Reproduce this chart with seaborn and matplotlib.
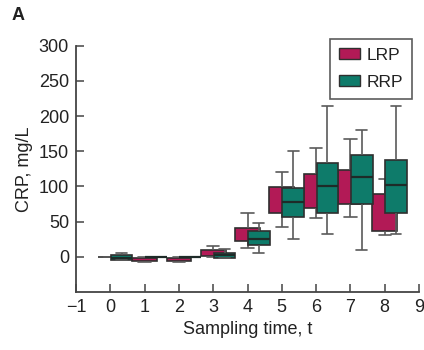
import numpy as np
import pandas as pd
import matplotlib
matplotlib.use("Agg")
import matplotlib.pyplot as plt
import seaborn as sns
from matplotlib.patches import Patch

# ---- data: box statistics per sampling time ----
times = [0, 1, 2, 3, 4, 5, 6, 7, 8]
series = ["LRP", "RRP"]
# [lower whisker, Q1, median, Q3, upper whisker]
lrp_lo = [0, -7, -7, 0, 13, 43, 55, 57, 31]
lrp_q1 = [0, -6.5, -6.5, 1, 23, 62, 70, 75, 37]
lrp_med = [0, -3, -3, 5, 32, 80, 95, 100, 60]
lrp_q3 = [0, -1, -1, 9.5, 40.5, 99, 118, 123, 89]
lrp_hi = [0, 0, 0, 16, 62, 121, 154, 168, 111]

rrp_lo = [-5, -1, -1, -2, 6, 26, 32, 10, 32]
rrp_q1 = [-4, 0, 0, -1.4, 17, 56, 62, 75, 62]
rrp_med = [-1, 0, 0, 2, 26, 78, 100, 113, 102]
rrp_q3 = [2, 0, 0, 5.7, 37, 98, 134, 145, 137]
rrp_hi = [5, 8, 7, 10.5, 48, 151, 214, 180, 214]

xticks = [-1, 0, 1, 2, 3, 4, 5, 6, 7, 8, 9]
yticks = [0, 50, 100, 150, 200, 250, 300]

colors = {"LRP": "#b21a56", "RRP": "#0e7b6a"}
offsets = {"LRP": 0.0, "RRP": 0.33}
widths = {"LRP": 0.72, "RRP": 0.63}


def make_frame(name, lo, q1, med, q3, hi):
    rows = []
    for i, t in enumerate(times):
        for v in (lo[i], q1[i], med[i], q3[i], hi[i]):
            rows.append({"series": name, "t": t, "pos": t + offsets[name], "value": v})
    return pd.DataFrame(rows)


df_l = make_frame("LRP", lrp_lo, lrp_q1, lrp_med, lrp_q3, lrp_hi)
df_r = make_frame("RRP", rrp_lo, rrp_q1, rrp_med, rrp_q3, rrp_hi)

sns.set_style("ticks")
plt.rcParams["font.family"] = ["Liberation Sans", "DejaVu Sans"]
text_col = "#222222"

fig = plt.figure(figsize=(4.24, 3.5), dpi=100)
ax = fig.add_axes([76 / 424, 1 - 292 / 350, (419 - 76) / 424, (292 - 45.7) / 350])

common = dict(x="pos", y="value", native_scale=True, orient="x", whis=np.inf,
              saturation=1, linecolor="#2f2f2f", linewidth=1.2, showfliers=False,
              whiskerprops=dict(color="#5a5a5a", linewidth=1.2),
              capprops=dict(color="#5a5a5a", linewidth=1.2), ax=ax)

sns.boxplot(data=df_l, color=colors["LRP"], width=widths["LRP"],
            medianprops=dict(linewidth=0), **common)
sns.boxplot(data=df_r, color=colors["RRP"], width=widths["RRP"],
            medianprops=dict(color="#1e2b28", linewidth=1.6), **common)

ax.set_xlim(-1, 9)
ax.set_ylim(-50, 300)
ax.set_xticks(xticks)
ax.set_yticks(yticks)
ax.tick_params(axis="both", direction="in", length=6, width=1.1, color="#444444",
               labelsize=13, labelcolor=text_col, pad=5, bottom=True, left=True)
for s in ["top", "right"]:
    ax.spines[s].set_visible(False)
for s in ["left", "bottom"]:
    ax.spines[s].set_color("#444444")
    ax.spines[s].set_linewidth(1.3)

ax.set_xlabel("Sampling time, t", fontsize=13, color=text_col, labelpad=4)
ax.set_ylabel("CRP, mg/L", fontsize=13, color=text_col, labelpad=4)

handles = [Patch(facecolor=colors[s], edgecolor="#2f2f2f", linewidth=1.0, label=s) for s in series]
leg = ax.legend(handles=handles, loc="upper right", bbox_to_anchor=(412 / 424, 1 - 39 / 350),
                bbox_transform=fig.transFigure, borderaxespad=0, frameon=True, fancybox=False,
                fontsize=12.5, handlelength=1.2, handleheight=0.55, handletextpad=0.4,
                labelspacing=0.7, borderpad=0.5)
leg.get_frame().set_edgecolor("#333333")
leg.get_frame().set_linewidth(1.2)
for t in leg.get_texts():
    t.set_color(text_col)

fig.text(12 / 424, 1 - 16 / 350, "A", fontsize=13, fontweight="bold", color=text_col,
         va="center", ha="left")

fig.savefig("out.png", dpi=100, facecolor="white")
